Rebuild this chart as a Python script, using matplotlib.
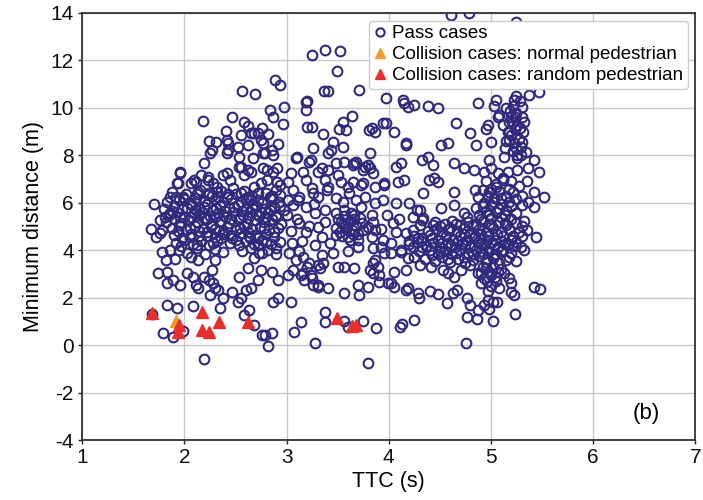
import matplotlib
matplotlib.use('Agg')
import matplotlib.pyplot as plt

# ── DATA (TTC in s / minimum distance in m) ─────────────────────────────────
# pass cases, split into regions of the plot so the lists stay readable
pass_left_upper = [
    (2.89, 11.17), (2.94, 10.96), (2.56, 10.7), (2.69, 10.58), (2.84, 9.9), (2.97, 10.03),
    (2.87, 9.6), (2.96, 9.32), (2.18, 9.44), (2.47, 9.6), (2.58, 9.4), (2.62, 9.23),
    (2.41, 9.02), (2.55, 8.85), (2.68, 8.94), (2.76, 9.15), (2.82, 8.9), (2.24, 8.6),
    (2.31, 8.56), (2.43, 8.51), (2.52, 8.35), (2.62, 8.43), (2.77, 8.51), (2.92, 8.47),
    (2.25, 8.1), (2.42, 8.1), (2.53, 7.92), (2.67, 7.88), (2.77, 8.1), (2.87, 8.0),
    (2.19, 7.67), (1.96, 7.25), (2.42, 7.25), (2.53, 7.5), (2.62, 7.37), (2.81, 7.37),
    (2.91, 7.46), (1.86, 6.24), (1.94, 6.83), (1.7, 5.94), (2.11, 6.87), (2.23, 7.08),
    (2.32, 6.66), (2.75, 6.83), (2.94, 6.74), (2.27, 8.22), (2.43, 8.22), (2.65, 8.94),
    (2.72, 8.94), (2.75, 8.64), (2.79, 8.1), (2.86, 8.22), (2.42, 8.64),
    (1.96, 7.29), (2.09, 6.95), (2.16, 7.16), (2.23, 6.95), (2.28, 6.83), (2.38, 7.16),
    (2.45, 6.95), (2.55, 7.5), (2.58, 7.16), (2.65, 7.29), (2.48, 6.62), (2.55, 6.4),
    (2.68, 6.66), (2.81, 6.95), (2.87, 7.29), (2.91, 6.87), (3.01, 6.87), (2.77, 7.46),
    (1.93, 6.83), (2.06, 6.83), (1.99, 6.24), (2.13, 6.45), (2.23, 6.32), (2.32, 6.45),
    (2.42, 6.24), (2.62, 6.24), (2.72, 6.1), (2.84, 6.24), (2.94, 6.32), (3.01, 6.1),
]

pass_left_dense = [
    (1.88, 6.45), (2.02, 6.38), (2.15, 6.52), (2.27, 6.3), (2.36, 6.48), (2.5, 6.35),
    (2.58, 6.5), (2.66, 6.3), (2.8, 6.42), (2.9, 6.55),
    (1.83, 6.05), (1.95, 6.12), (2.05, 6.0), (2.1, 6.22), (2.2, 6.08), (2.3, 6.15),
    (2.38, 6.02), (2.46, 6.18), (2.55, 6.05), (2.65, 6.12), (2.76, 6.0), (2.85, 6.15), (2.93, 6.02),
    (1.8, 5.75), (1.9, 5.85), (1.98, 5.72), (2.07, 5.9), (2.14, 5.78), (2.22, 5.95), (2.28, 5.7),
    (2.35, 5.86), (2.44, 5.76), (2.52, 5.92), (2.6, 5.74), (2.7, 5.88), (2.79, 5.72), (2.88, 5.84), (2.97, 5.7),
    (1.85, 5.5), (1.93, 5.6), (2.0, 5.42), (2.09, 5.55), (2.17, 5.62), (2.25, 5.45), (2.33, 5.58),
    (2.41, 5.4), (2.48, 5.6), (2.57, 5.48), (2.64, 5.62), (2.73, 5.44), (2.82, 5.55), (2.9, 5.42),
    (1.82, 5.2), (1.9, 5.32), (1.97, 5.14), (2.04, 5.28), (2.12, 5.18), (2.19, 5.36), (2.27, 5.12),
    (2.36, 5.25), (2.44, 5.15), (2.53, 5.3), (2.61, 5.1), (2.69, 5.26), (2.78, 5.18), (2.86, 5.3), (2.95, 5.12),
    (1.88, 4.95), (1.95, 5.05), (2.02, 4.85), (2.1, 5.0), (2.18, 4.9), (2.26, 5.02), (2.34, 4.82),
    (2.42, 4.98), (2.5, 4.86), (2.58, 5.04), (2.66, 4.88), (2.74, 4.98), (2.83, 4.84), (2.92, 4.95),
    (1.9, 4.65), (1.98, 4.52), (2.06, 4.7), (2.14, 4.58), (2.22, 4.75), (2.3, 4.55), (2.39, 4.68),
    (2.47, 4.52), (2.55, 4.72), (2.63, 4.6), (2.72, 4.5), (2.8, 4.7), (2.88, 4.56),
    (1.92, 4.3), (2.0, 4.42), (2.08, 4.25), (2.16, 4.38), (2.24, 4.22), (2.32, 4.4), (2.45, 4.3),
    (2.53, 4.22), (2.6, 4.4), (2.68, 4.28), (2.76, 4.42), (2.85, 4.25), (2.94, 4.35),
    (1.95, 4.0), (2.03, 3.9), (2.12, 4.08), (2.2, 3.85), (2.3, 4.05), (2.38, 3.92), (2.56, 3.95),
    (2.65, 4.1), (2.73, 3.88), (2.82, 4.02), (2.9, 3.85),
    (1.92, 6.25), (2.0, 6.15), (2.12, 6.35), (2.24, 6.42), (2.33, 6.25), (2.43, 6.35),
    (2.6, 6.2), (2.72, 6.4), (2.86, 6.28),
    (1.88, 5.65), (2.03, 5.8), (2.11, 5.68), (2.19, 5.82), (2.31, 5.8), (2.4, 5.65),
    (2.49, 5.82), (2.56, 5.66), (2.66, 5.78), (2.75, 5.62), (2.84, 5.68), (2.94, 5.88),
    (1.96, 5.38), (2.06, 5.4), (2.14, 5.47), (2.22, 5.3), (2.3, 5.38), (2.38, 5.5),
    (2.46, 5.32), (2.54, 5.4), (2.62, 5.35), (2.7, 5.52), (2.8, 5.38), (2.9, 5.5),
    (1.94, 4.82), (2.05, 4.95), (2.14, 4.8), (2.22, 4.62), (2.3, 4.9), (2.38, 4.78),
    (2.46, 4.66), (2.54, 4.92), (2.62, 4.78), (2.7, 4.65), (2.78, 4.92), (2.88, 4.78),
    (1.97, 4.18), (2.05, 4.55), (2.12, 4.22), (2.28, 4.3), (2.36, 4.5), (2.5, 4.45),
    (2.64, 4.52), (2.72, 4.2), (2.8, 4.35), (2.9, 4.1),
]

pass_left_lower = [
    (1.78, 3.92), (1.86, 4.0), (1.82, 3.58), (1.91, 3.62), (1.74, 3.03), (1.83, 3.07),
    (1.83, 2.61), (1.89, 2.73), (1.96, 2.52), (2.03, 3.03), (2.08, 2.86), (2.11, 2.52),
    (2.13, 2.4), (2.06, 3.7), (2.13, 3.58), (2.19, 2.86), (2.24, 2.73), (2.27, 3.16),
    (2.28, 2.61), (2.3, 2.4), (2.33, 2.31), (2.3, 3.58), (2.25, 2.1), (2.38, 1.97),
    (2.47, 2.23), (2.55, 1.97), (2.52, 1.8), (2.6, 2.31), (2.65, 2.4), (2.53, 2.86),
    (2.62, 3.24), (2.72, 2.73), (2.75, 3.16), (2.68, 3.66), (2.76, 3.87), (1.83, 1.68),
    (1.93, 1.55), (2.08, 1.64), (2.35, 1.55), (2.63, 1.47), (2.58, 1.26), (2.68, 0.84),
    (2.76, 0.41), (2.79, 0.41), (2.86, 0.5), (2.82, -0.05), (1.79, 0.5), (1.89, 0.33),
    (1.99, 0.58), (2.19, -0.6), (1.68, 1.3), (1.67, 4.89), (1.76, 4.72), (1.72, 4.55),
    (1.78, 4.84), (1.76, 5.27), (1.81, 5.39), (1.86, 5.56), (2.86, 3.07), (2.92, 2.73),
    (3.01, 2.95), (2.87, 1.8), (2.92, 1.97), (3.04, 1.8),
]

pass_mid = [
    (3.25, 12.23), (3.38, 12.44), (3.52, 12.4), (3.49, 11.55), (3.2, 10.29), (3.37, 10.7),
    (3.41, 10.7), (3.19, 9.9), (3.19, 10.24), (3.64, 9.65), (3.71, 10.75), (3.2, 9.19),
    (3.25, 9.19), (3.36, 8.9), (3.55, 9.4), (3.51, 9.12), (3.58, 9.06), (3.81, 9.06),
    (3.87, 8.98), (3.97, 9.36), (4.05, 8.98), (4.17, 8.51), (4.15, 10.2), (4.25, 10.12),
    (3.97, 10.41), (4.14, 10.33), (4.19, 10.03), (4.38, 10.08), (4.48, 9.99), (3.94, 9.36),
    (3.84, 9.15), (3.82, 8.1), (3.77, 7.5), (3.45, 8.56), (3.43, 8.22), (3.55, 8.35),
    (3.26, 8.3), (3.09, 7.88), (3.22, 7.71), (3.35, 7.46), (3.41, 7.37), (3.48, 7.67),
    (3.56, 7.71), (3.65, 7.59), (3.68, 7.71), (3.8, 7.59), (3.82, 7.46), (3.75, 7.37),
    (3.1, 7.92), (3.24, 7.8), (3.41, 8.1), (3.66, 7.67), (3.85, 7.25), (3.95, 6.83),
    (4.07, 7.5), (4.12, 7.67), (4.09, 6.87), (4.15, 6.95), (4.17, 8.43),
    (3.04, 7.25), (3.16, 7.29), (3.19, 6.95), (3.31, 7.29), (3.38, 6.95), (3.5, 7.16),
    (3.53, 6.87), (3.65, 6.87), (3.75, 6.83), (3.87, 6.66), (3.95, 6.74), (3.11, 6.1),
    (3.26, 6.4), (3.4, 6.53), (3.6, 6.66), (3.73, 6.74), (3.06, 6.53), (3.12, 6.24),
    (3.25, 6.62), (3.31, 6.24), (3.41, 6.66), (3.48, 6.2), (3.55, 6.03), (3.61, 6.4),
    (3.68, 6.1), (3.77, 6.24), (3.87, 5.98), (3.94, 6.1), (4.07, 5.98), (4.2, 5.98),
    (4.28, 5.69), (4.24, 5.39), (4.33, 5.27), (3.06, 5.9), (3.19, 5.82), (3.28, 5.56),
    (3.38, 5.69), (3.48, 5.56), (3.56, 5.69), (3.63, 5.56), (3.73, 5.82), (3.84, 5.48),
    (3.12, 5.14), (3.19, 4.76), (3.31, 4.97), (3.35, 4.55), (3.48, 4.63), (3.8, 4.97),
    (3.87, 4.84), (3.84, 4.55), (3.94, 4.42), (4.04, 5.14), (4.07, 4.76), (4.17, 4.72),
    (4.24, 4.84), (4.29, 4.51), (4.33, 4.13), (4.24, 4.13),
    (3.5, 5.3), (3.55, 5.1), (3.58, 4.9), (3.62, 5.25), (3.65, 4.7), (3.68, 5.0),
    (3.72, 5.35), (3.6, 4.55), (3.52, 4.75), (3.7, 4.45), (3.75, 4.85), (3.56, 5.45),
    (3.66, 5.5), (3.48, 4.95), (3.0, 5.5), (3.04, 4.8), (3.1, 5.3), (3.15, 4.4),
    (3.22, 5.0), (3.28, 4.2), (3.38, 5.2), (3.42, 4.3), (3.27, 5.95), (3.85, 5.2),
    (3.92, 4.9), (3.98, 5.5), (4.1, 5.3), (4.02, 4.3), (4.12, 4.0), (4.2, 4.4),
    (3.95, 3.9), (3.85, 4.1), (3.05, 4.3), (3.12, 3.95), (3.45, 3.9), (3.6, 3.95),
    (3.7, 4.15), (3.35, 3.8),
    (3.54, 4.6), (3.6, 5.15), (3.64, 4.85), (3.7, 4.7), (3.74, 5.15), (3.57, 5.0),
    (3.66, 5.3), (3.53, 5.2), (3.62, 4.42),
    (3.02, 3.87), (3.09, 3.58), (3.16, 3.7), (3.22, 3.45), (3.31, 3.37), (3.06, 3.16),
    (3.16, 3.03), (3.25, 2.82), (3.2, 3.28), (3.36, 3.45), (3.33, 3.24), (3.5, 3.28),
    (3.56, 3.28), (3.66, 3.24), (3.56, 2.19), (3.7, 2.52), (3.71, 2.1), (3.8, 2.44),
    (3.82, 3.16), (3.85, 3.03), (3.31, 2.52), (3.41, 2.4), (3.9, 2.65), (4.02, 2.61),
    (4.05, 3.07), (4.17, 3.16), (4.17, 2.31), (4.29, 2.19), (3.14, 2.95), (3.17, 2.73),
    (3.24, 2.95), (3.26, 2.52), (3.31, 2.44), (3.99, 2.61), (4.05, 2.44), (4.19, 2.4),
    (3.85, 3.45), (3.9, 2.95), (3.87, 3.58), (4.19, 3.66), (4.25, 3.7), (3.92, 4.13),
    (4.02, 3.87), (4.12, 3.92), (3.89, 3.28),
    (3.07, 0.54), (3.14, 0.96), (3.28, 0.08), (3.38, 1.38), (3.38, 0.96), (3.56, 1.0),
    (3.6, 0.75), (3.75, 1.0), (3.88, 0.71), (3.8, -0.75), (4.11, 0.75), (4.13, 0.88),
    (4.25, 1.05),
]

pass_right = [
    (4.61, 13.92), (4.79, 13.98), (5.25, 13.6),
    (5.07, 9.61), (5.12, 9.27), (5.17, 8.98), (5.2, 9.61), (5.25, 9.78), (5.26, 9.27),
    (5.31, 8.98), (5.32, 9.4), (5.18, 8.64), (5.23, 8.51), (5.29, 8.35), (5.34, 8.14),
    (5.26, 8.0), (5.22, 10.1), (5.28, 10.3), (5.15, 10.0), (5.3, 9.6), (5.24, 9.1),
    (5.18, 9.4), (5.27, 8.7), (5.14, 8.3), (5.22, 8.2), (5.3, 10.05), (5.25, 10.5),
    (5.18, 9.0), (5.22, 9.4), (5.28, 9.15), (5.2, 8.85), (5.25, 8.3), (5.15, 8.6),
    (5.29, 8.0), (5.24, 9.6), (5.19, 9.85), (5.3, 8.55),
    (4.87, 10.2), (5.05, 10.33), (5.03, 10.08), (5.23, 10.33), (5.37, 10.54), (5.47, 10.67),
    (4.66, 9.36), (4.8, 8.94), (4.85, 8.43), (4.97, 9.27), (5.0, 8.56), (4.95, 9.1),
    (5.08, 9.7), (4.51, 8.43), (4.58, 8.51), (4.38, 7.92), (4.43, 7.59), (4.33, 7.8),
    (4.48, 6.87), (4.39, 6.95), (4.44, 7.04),
    (4.64, 7.67), (4.74, 7.46), (4.83, 7.37), (4.93, 7.29), (5.0, 7.46), (5.07, 7.25),
    (5.17, 7.29), (5.26, 7.37), (5.36, 7.46), (5.42, 7.8), (5.47, 7.29), (5.13, 7.92),
    (5.26, 7.88), (4.98, 7.8),
    (5.52, 6.24), (5.42, 6.45), (5.36, 6.03), (5.42, 5.84), (4.34, 6.4), (4.64, 6.45),
    (4.51, 5.77), (4.84, 6.53), (4.92, 6.53), (4.87, 6.24), (4.64, 5.9), (4.74, 5.56),
    (4.77, 5.39), (4.31, 5.69), (4.34, 5.35), (4.31, 5.05), (4.43, 5.05),
    (4.95, 6.9), (5.05, 6.8), (5.12, 6.95), (5.0, 6.6), (5.08, 6.5), (5.18, 6.6),
    (4.97, 6.3), (5.03, 6.2), (5.15, 6.3), (5.22, 6.45), (5.25, 6.15), (4.93, 6.0),
    (5.0, 5.9), (5.1, 5.95), (5.2, 5.85), (5.3, 5.9), (4.95, 5.65), (5.05, 5.6),
    (5.15, 5.7), (5.25, 5.55), (4.88, 5.5), (5.0, 5.35), (5.1, 5.4), (5.2, 5.3),
    (5.32, 5.25), (4.85, 5.8), (5.27, 6.7), (5.35, 6.9), (5.12, 7.05),
    (4.9, 5.3), (4.98, 5.5), (5.08, 5.72), (5.03, 6.05), (4.98, 6.45), (5.1, 6.2),
    (5.18, 6.05), (5.14, 5.5), (4.92, 5.85), (5.05, 6.65), (5.2, 6.9), (5.3, 6.3),
    (4.45, 5.2), (4.55, 5.1), (4.62, 5.25), (4.7, 5.05), (4.78, 5.2), (4.85, 5.1),
    (4.92, 5.25), (5.0, 5.05), (5.08, 5.2), (5.15, 5.05), (5.25, 5.15),
    (4.5, 5.0), (4.58, 4.85), (4.66, 5.12), (4.74, 4.7), (4.82, 5.02), (4.9, 4.7),
    (4.98, 5.12), (5.06, 4.68), (5.14, 5.15), (5.22, 4.62), (5.3, 5.0),
    (4.38, 4.8), (4.46, 4.9), (4.52, 4.75), (4.6, 4.95), (4.67, 4.8), (4.74, 4.92),
    (4.8, 4.72), (4.88, 4.88), (4.95, 4.75), (5.02, 4.92), (5.1, 4.78), (5.18, 4.9),
    (5.27, 4.75), (5.35, 4.85),
    (4.25, 4.6), (4.33, 4.5), (4.4, 4.65), (4.48, 4.45), (4.56, 4.6), (4.63, 4.42),
    (4.7, 4.58), (4.77, 4.45), (4.84, 4.62), (4.9, 4.48), (4.97, 4.6), (5.04, 4.45),
    (5.12, 4.58), (5.2, 4.42), (5.3, 4.6), (5.44, 4.55),
    (4.32, 4.4), (4.42, 4.5), (4.52, 4.3), (4.6, 4.18), (4.68, 4.4), (4.75, 4.2),
    (4.83, 4.5), (4.9, 4.28), (4.96, 4.45), (5.03, 4.2), (5.1, 4.4), (5.17, 4.25),
    (5.25, 4.35),
    (4.2, 4.25), (4.28, 4.35), (4.36, 4.18), (4.43, 4.32), (4.5, 4.15), (4.58, 4.3),
    (4.65, 4.12), (4.72, 4.28), (4.8, 4.15), (4.87, 4.35), (4.93, 4.2), (5.0, 4.3),
    (5.07, 4.12), (5.14, 4.28), (5.22, 4.18), (5.29, 4.13), (5.32, 4.0),
    (4.3, 3.95), (4.4, 4.02), (4.48, 3.85), (4.55, 3.98), (4.62, 3.85), (4.7, 4.0),
    (4.78, 3.88), (4.85, 4.02), (4.92, 3.85), (4.98, 3.98), (5.05, 3.85), (5.12, 4.0),
    (5.2, 3.88),
    (4.42, 3.8), (4.5, 3.95), (4.58, 3.65), (4.66, 3.9), (4.74, 3.7), (4.82, 3.82),
    (4.9, 3.95), (4.96, 3.65), (5.03, 3.8), (5.1, 3.95), (5.18, 3.72),
    (4.35, 3.65), (4.45, 3.55), (4.52, 3.7), (4.6, 3.5), (4.68, 3.65), (4.75, 3.45),
    (4.82, 3.6), (4.88, 3.75), (4.95, 3.5), (5.02, 3.68), (5.08, 3.45), (5.15, 3.6),
    (5.25, 3.55),
    (4.8, 3.37), (4.87, 3.03), (4.93, 2.82), (5.0, 2.95), (5.07, 3.07), (5.13, 3.03),
    (5.2, 2.61), (5.18, 2.82), (4.95, 3.25), (5.02, 3.3), (4.9, 2.6), (5.0, 2.5),
    (5.05, 2.7), (4.97, 2.3), (5.08, 2.4), (4.92, 3.3), (4.98, 3.1), (5.04, 2.88),
    (4.96, 2.7), (5.1, 3.2), (4.9, 3.05),
    (4.31, 3.37), (4.41, 3.28), (4.53, 3.16), (4.58, 3.03), (4.64, 2.86), (4.71, 3.16),
    (4.3, 1.97), (4.4, 2.27), (4.48, 2.14), (4.57, 1.76), (4.63, 2.19), (4.67, 2.31),
    (4.77, 1.97), (4.8, 1.68), (4.87, 1.47), (4.93, 1.68), (4.97, 1.89), (5.02, 1.8),
    (5.06, 1.8), (5.2, 2.23), (5.23, 2.1), (4.77, 1.17), (4.86, 1.09), (5.02, 1.0),
    (4.98, 1.51), (5.24, 1.3), (4.76, 0.08), (5.42, 2.44), (5.48, 2.35),
]

collision_normal = [(1.92, 1.0)]
collision_random = [
    (1.68, 1.34), (1.95, 0.84), (1.94, 0.54), (2.17, 1.38), (2.17, 0.62), (2.24, 0.54),
    (2.34, 0.96), (2.62, 0.96), (3.49, 1.13), (3.64, 0.82), (3.68, 0.86),
]

labels = ['Pass cases', 'Collision cases: normal pedestrian',
          'Collision cases: random pedestrian']

# ── STYLE ────────────────────────────────────────────────────────────────────
NAVY   = '#2f2a7c'
ORANGE = '#f29a2e'
RED    = '#e5302b'

plt.rcParams['font.family'] = ['Liberation Sans', 'DejaVu Sans']
plt.rcParams['axes.unicode_minus'] = False

fig = plt.figure(figsize=(7.03, 5.0), dpi=100)
ax = fig.add_axes([0.117, 0.12, 0.872, 0.854])

pass_all = pass_left_upper + pass_left_dense + pass_left_lower + pass_mid + pass_right
px = [p[0] for p in pass_all]
py = [p[1] for p in pass_all]
ax.plot(px, py, 'o', linestyle='none', ms=7.0, mfc='none', mec=NAVY, mew=1.5,
        label=labels[0], zorder=3)
ax.plot([p[0] for p in collision_normal], [p[1] for p in collision_normal], '^',
        linestyle='none', ms=8, color=ORANGE, mec=ORANGE, label=labels[1], zorder=4)
ax.plot([p[0] for p in collision_random], [p[1] for p in collision_random], '^',
        linestyle='none', ms=8, color=RED, mec=RED, label=labels[2], zorder=5)

ax.set_xlim(1, 7)
ax.set_ylim(-4, 14)
ax.set_xticks(range(1, 8))
ax.set_yticks(range(-4, 15, 2))
ax.grid(True, color='#c8c8c8', linewidth=1.0, zorder=0)
ax.set_axisbelow(True)
ax.tick_params(labelsize=15, length=3, width=1, pad=3, direction='out',
               colors='#222222', labelcolor='#111111')
for sp in ax.spines.values():
    sp.set_linewidth(1.3)
    sp.set_color('#333333')

ax.set_xlabel('TTC (s)', fontsize=15.5, labelpad=3)
ax.set_ylabel('Minimum distance (m)', fontsize=15.5, labelpad=5)
ax.text(6.52, -2.9, '(b)', fontsize=16, ha='center', va='center')

leg = ax.legend(loc='upper right', fontsize=13.5, handlelength=0.6, handletextpad=0.35,
                labelspacing=0.2, borderpad=0.25, borderaxespad=0.4,
                markerscale=0.85, framealpha=1.0, edgecolor='#cccccc', fancybox=True)

fig.savefig('out.png', dpi=100)
